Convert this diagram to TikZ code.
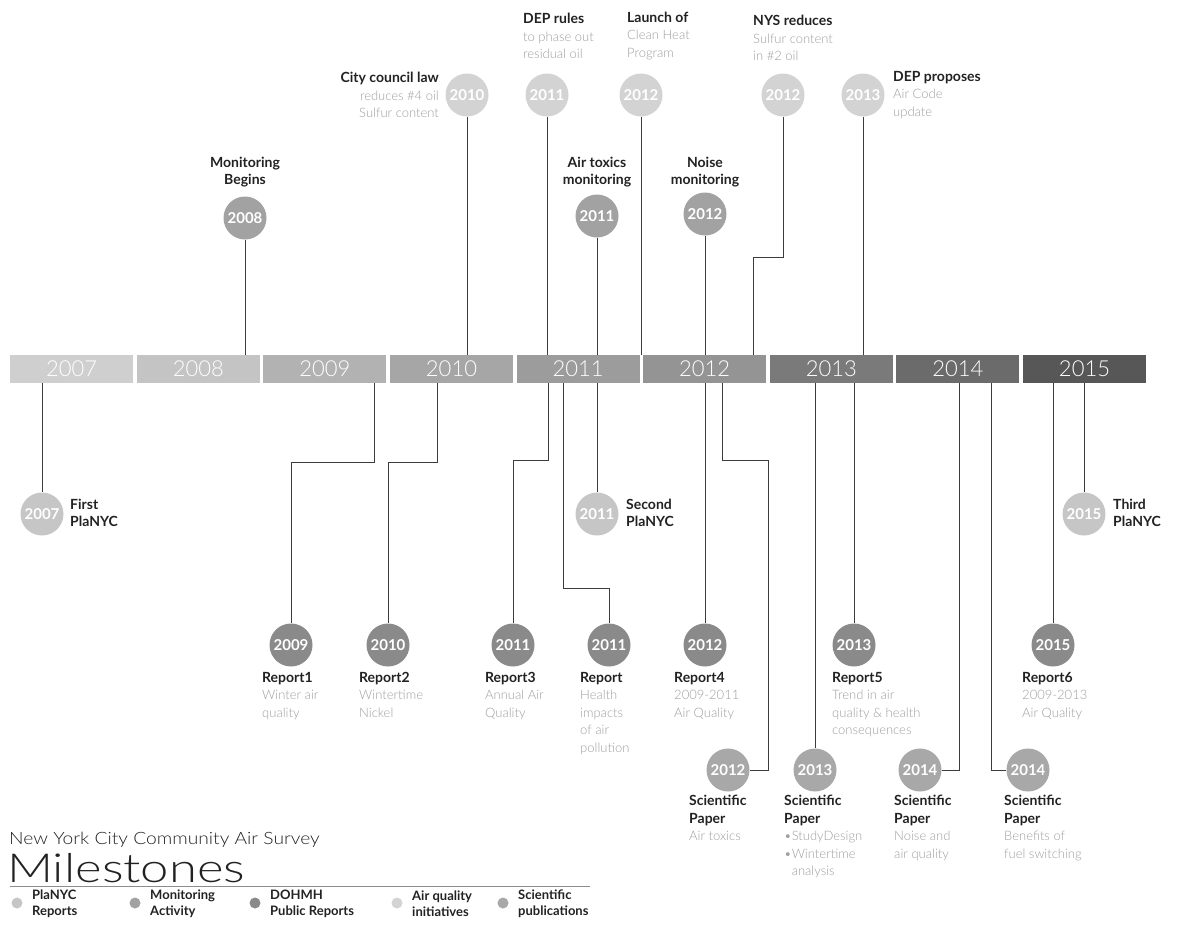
\documentclass[tikz,border=0pt]{standalone}
\usepackage{fontspec}
\setmainfont{Lato}
\newfontfamily\thinfont{Lato Light}
\usepackage{xcolor}
\usetikzlibrary{calc}

\definecolor{headgray}{HTML}{222222}
\definecolor{textgray}{HTML}{9E9E9E}
\definecolor{wiregray}{HTML}{3C3C3C}
\definecolor{planycgray}{HTML}{C6C6C6}
\definecolor{monitorgray}{HTML}{A2A2A2}
\definecolor{reportgray}{HTML}{8A8A8A}
\definecolor{initgray}{HTML}{D3D3D3}
\definecolor{sciencegray}{HTML}{A8A8A8}

\newcommand{\hd}[1]{{\normalfont\bfseries\fontsize{14}{17.5}\selectfont\color{headgray}#1}}

\tikzset{
  yearbar/.style={minimum width=123pt, minimum height=28pt, inner sep=0pt, anchor=west,
    text=white, font=\thinfont\fontsize{22}{22}\selectfont},
  yeardot/.style={circle, minimum size=43pt, inner sep=0pt, text=white,
    font=\bfseries\fontsize{15}{15}\selectfont},
  planyc/.style={yeardot, fill=planycgray},
  monitor/.style={yeardot, fill=monitorgray},
  report/.style={yeardot, fill=reportgray},
  initiative/.style={yeardot, fill=initgray},
  science/.style={yeardot, fill=sciencegray},
  note/.style={inner sep=0pt, align=left, text=textgray, font=\thinfont\fontsize{13}{17.5}\selectfont},
  wire/.style={draw=wiregray, line width=0.8pt},
  keydot/.style={circle, minimum size=11pt, inner sep=0pt},
}

\begin{document}
\begin{tikzpicture}[x=1pt, y=-1pt]
  \useasboundingbox (0,0) rectangle (1182,926);

  %year bar
  \foreach \yr/\shade [count=\i from 0] in {2007/19,2008/23,2009/30,2010/35,2011/39,2012/42,2013/52,2014/58,2015/66}
    \node[yearbar, fill=black!\shade] (bar\yr) at ({10+126.6*\i},369) {\yr};

  %events above the bar
  \node[monitor] (d2008) at (245,218) {2008};
  \node[note, align=center] (t2008) at (245,172) {\hd{Monitoring}\\\hd{Begins}};
  \node[initiative] (d2010a) at (467,95) {2010};
  \node[note, anchor=east, align=right] (t2010a) at (439,95) {\hd{City council law}\\reduces \#4 oil\\Sulfur content};
  \node[initiative] (d2011a) at (547,95) {2011};
  \node[note, anchor=west] (t2011a) at (523,36) {\hd{DEP rules}\\to phase out\\residual oil};
  \node[monitor] (d2011b) at (597,216) {2011};
  \node[note, align=center] (t2011b) at (597,172) {\hd{Air toxics}\\\hd{monitoring}};
  \node[initiative] (d2012a) at (641,95) {2012};
  \node[note, anchor=west] (t2012a) at (627,36) {\hd{Launch of}\\Clean Heat\\Program};
  \node[monitor] (d2012b) at (705,214) {2012};
  \node[note, align=center] (t2012b) at (705,172) {\hd{Noise}\\\hd{monitoring}};
  \node[initiative] (d2012c) at (783,95) {2012};
  \node[note, anchor=west] (t2012c) at (753,38) {\hd{NYS reduces}\\Sulfur content\\in \#2 oil};
  \node[initiative] (d2013) at (863,95) {2013};
  \node[note, anchor=west] (t2013) at (893,95) {\hd{DEP proposes}\\Air Code\\update};

  \draw[wire] (d2008.south) -- (d2008.south |- bar2008.north);
  \draw[wire] (d2010a.south) -- (d2010a.south |- bar2010.north);
  \draw[wire] (d2011a.south) -- (d2011a.south |- bar2011.north);
  \draw[wire] (d2011b.south) -- (d2011b.south |- bar2011.north);
  \draw[wire] (d2012a.south) -- (d2012a.south |- bar2012.north);
  \draw[wire] (d2012b.south) -- (d2012b.south |- bar2012.north);
  \coordinate (kNYS) at (753,257);
  \draw[wire] (d2012c.south) |- (kNYS) -- (kNYS |- bar2012.north);
  \draw[wire] (d2013.south) -- (d2013.south |- bar2013.north);

  %PlaNYC
  \node[planyc] (p2007) at (42,514) {2007};
  \node[note, anchor=west] (tp2007) at (70,513) {\hd{First}\\\hd{PlaNYC}};
  \node[planyc] (p2011) at (597,514) {2011};
  \node[note, anchor=west] (tp2011) at (626,513) {\hd{Second}\\\hd{PlaNYC}};
  \node[planyc] (p2015) at (1084,514) {2015};
  \node[note, anchor=west] (tp2015) at (1113,513) {\hd{Third}\\\hd{PlaNYC}};

  %DOHMH reports
  \node[report] (r2009) at (291,645) {2009};
  \node[note, anchor=north west] (tr2009) at (262,672) {\hd{Report1}\\Winter air\\quality};
  \node[report] (r2010) at (388,645) {2010};
  \node[note, anchor=north west] (tr2010) at (359,672) {\hd{Report2}\\Wintertime\\Nickel};
  \node[report] (r2011a) at (513,645) {2011};
  \node[note, anchor=north west] (tr2011a) at (485,672) {\hd{Report3}\\Annual Air\\Quality};
  \node[report] (r2011b) at (609,645) {2011};
  \node[note, anchor=north west] (tr2011b) at (580,672) {\hd{Report}\\Health\\impacts\\of air\\pollution};
  \node[report] (r2012) at (705,645) {2012};
  \node[note, anchor=north west] (tr2012) at (674,672) {\hd{Report4}\\2009-2011\\Air Quality};
  \node[report] (r2013) at (854,645) {2013};
  \node[note, anchor=north west] (tr2013) at (832,672) {\hd{Report5}\\Trend in air\\quality \& health\\consequences};
  \node[report] (r2015) at (1053,645) {2015};
  \node[note, anchor=north west] (tr2015) at (1022,672) {\hd{Report6}\\2009-2013\\Air Quality};

  %scientific papers
  \node[science] (s2012) at (728,770) {2012};
  \node[note, anchor=north west] (ts2012) at (689,795) {\hd{Scientific}\\\hd{Paper}\\Air toxics};
  \node[science] (s2013) at (815,770) {2013};
  \node[note, anchor=north west] (ts2013) at (784,795) {\hd{Scientific}\\\hd{Paper}\\•StudyDesign\\•Wintertime\\\phantom{•}analysis};
  \node[science] (s2014a) at (920,770) {2014};
  \node[note, anchor=north west] (ts2014a) at (894,795) {\hd{Scientific}\\\hd{Paper}\\Noise and\\air quality};
  \node[science] (s2014b) at (1028,770) {2014};
  \node[note, anchor=north west] (ts2014b) at (1004,795) {\hd{Scientific}\\\hd{Paper}\\Benefits of\\fuel switching};

  %below the bar
  \draw[wire] (bar2007.south -| p2007) -- (p2007.north);
  \coordinate (kR1) at (374,462);
  \draw[wire] (kR1 |- bar2009.south) -- (kR1) -| (r2009.north);
  \coordinate (kR2) at (437,462);
  \draw[wire] (kR2 |- bar2010.south) -- (kR2) -| (r2010.north);
  \coordinate (kR3) at (548,460);
  \draw[wire] (kR3 |- bar2011.south) -- (kR3) -| (r2011a.north);
  \coordinate (kR4) at (563,588);
  \draw[wire] (kR4 |- bar2011.south) -- (kR4) -| (r2011b.north);
  \draw[wire] (bar2011.south -| p2011) -- (p2011.north);
  \draw[wire] (bar2012.south -| r2012) -- (r2012.north);
  \coordinate (kS1) at (722,460);
  \coordinate (kS1b) at (768,460);
  \draw[wire] (kS1 |- bar2012.south) -- (kS1) -- (kS1b) |- (s2012.east);
  \draw[wire] (bar2013.south -| s2013) -- (s2013.north);
  \draw[wire] (bar2013.south -| r2013) -- (r2013.north);
  \coordinate (kS3) at (959,383);
  \draw[wire] (kS3 |- bar2014.south) |- (s2014a.east);
  \coordinate (kS4) at (991,383);
  \draw[wire] (kS4 |- bar2014.south) |- (s2014b.west);
  \draw[wire] (bar2015.south -| r2015) -- (r2015.north);
  \draw[wire] (bar2015.south -| p2015) -- (p2015.north);

  %title and key
  \node[anchor=base west, inner sep=0pt, text depth=0pt, text=headgray, font=\thinfont\fontsize{17}{17}\selectfont] (survey) at (9,844) {\scalebox{1.13}[1]{New York City Community Air Survey}};
  \node[anchor=base west, inner sep=0pt, text height=28pt, text depth=0pt, text=headgray, font=\thinfont\fontsize{40}{40}\selectfont] (milestones) at (7,882) {\scalebox{1.27}[1]{Milestones}};
  \draw[black!45, line width=0.7pt] (10,886) -- (590,886);
  \foreach \shade/\x/\txt in {planycgray/17/{PlaNYC\\Reports}, monitorgray/135/{Monitoring\\Activity},
      reportgray/255/{DOHMH\\Public Reports}, initgray/397/{Air quality\\initiatives}, sciencegray/503/{Scientific\\publications}}
  {
    \node[keydot, fill=\shade] (key\x) at (\x,903) {};
    \node[anchor=west, inner sep=0pt, align=left, text=headgray, font=\bfseries\fontsize{13}{16}\selectfont] at (\x+15,904) {\txt};
  }
\end{tikzpicture}
\end{document}
